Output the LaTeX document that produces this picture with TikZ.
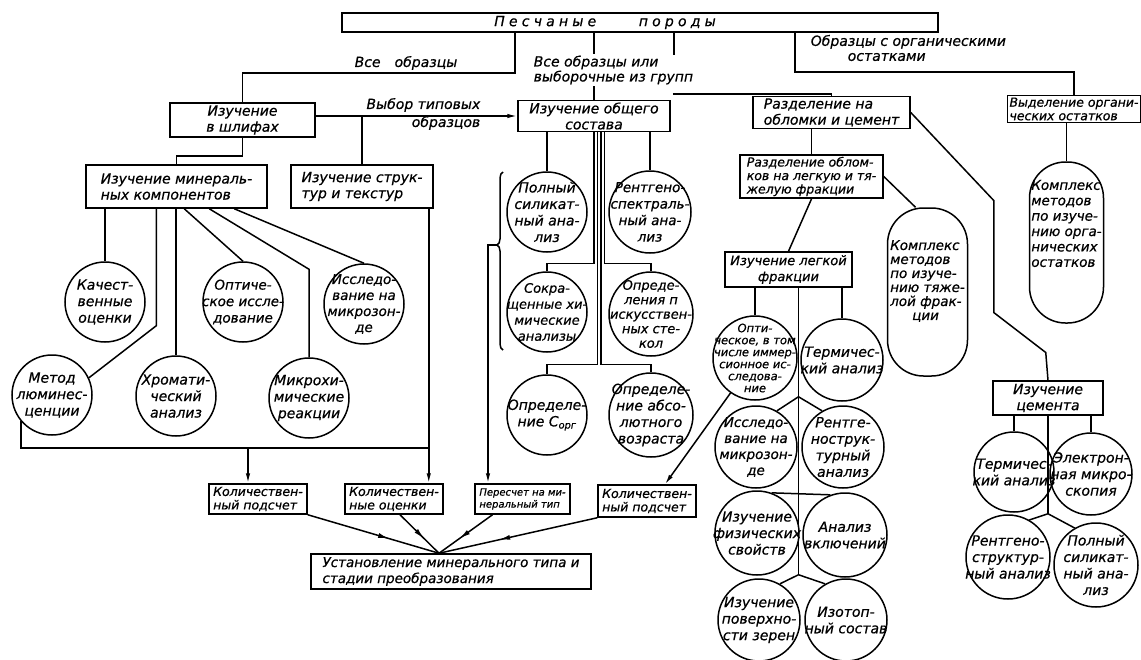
\documentclass[tikz,border=0pt]{standalone}
\usepackage{fontspec}
\setmainfont{DejaVu Sans}[ItalicFeatures={FakeBold=0.6}]
\usetikzlibrary{arrows.meta,decorations.pathreplacing,decorations.markings}

\begin{document}
\begin{tikzpicture}
[   x=1pt,y=-1pt,line width=1.5pt,
    box/.style={draw,inner sep=2pt,align=left,font=\fontsize{14}{16}\selectfont\itshape},
    sbox/.style={box,font=\fontsize{12.5}{13.5}\selectfont\itshape},
    circ/.style={draw,circle,minimum size=80pt,inner sep=-25pt,align=center,font=\fontsize{14}{16.5}\selectfont\itshape},
    oval/.style={draw,rounded corners=36pt,inner sep=0pt},
    otext/.style={align=left,inner sep=0pt,font=\fontsize{13.5}{14}\selectfont\itshape},
    lbl/.style={align=left,inner sep=1pt,font=\fontsize{14}{15}\selectfont\itshape},
    arr/.style={-{Latex[length=10pt,width=4.5pt]}},
    midarr/.style={postaction={decorate},decoration={markings,mark=at position 0.62 with {\arrow{Latex[length=11pt,width=5pt]}}}}
]
    \path[fill=white] (0,0) rectangle (1141,659);
    \useasboundingbox (0,0) rectangle (1141,659);
    % top and first level
    \node[box,inner sep=0pt,align=center,minimum width=596pt,minimum height=19pt,font=\fontsize{14}{16}\selectfont\itshape\addfontfeatures{LetterSpace=30}] (pesch) at (640,22.5) {Песчаные \hspace*{34pt}породы\hspace*{70pt}};
    \node[lbl] (vse) at (406,63) {Все\quad образцы};
    \node[lbl,anchor=west] (vseili) at (532,70) {Все образцы или\\выборочные из групп};
    \node[lbl,anchor=west] (orgl) at (809,48) {Образцы с органическими\\\hspace*{37pt}остатками};
    \node[box,align=center,minimum width=145pt,minimum height=34pt] (shlif) at (242.5,120) {Изучение\\в шлифах};
    \node[box,align=center,minimum width=152pt,minimum height=30pt] (obs) at (594,116) {Изучение общего\\состава};
    \node[box,minimum width=157pt,minimum height=29pt] (razdC) at (831.5,112.5) {Разделение на\\обломки и цемент};
    \node[sbox,minimum width=128pt,minimum height=26pt] (vydel) at (1074,109) {Выделение органи-\\ческих остатков};
    \node[lbl,align=right,anchor=east,font=\fontsize{14}{18}\selectfont\itshape] (vybor) at (482,114) {Выбор типовых\\образцов};
    % second level
    \node[box,minimum width=181pt,minimum height=43pt] (mincomp) at (176.5,186.5) {Изучение минераль-\\ных компонентов};
    \node[box,minimum width=142pt,minimum height=43pt] (struct) at (362,186.5) {Изучение струк-\\тур и текстур};
    \node[sbox,minimum width=143pt,minimum height=43pt] (razdOb) at (811.5,176.5) {Разделение облом-\\ков на легкую и тя-\\желую фракции};
    \node[oval,minimum width=80pt,minimum height=168pt] (tyazh) at (927.5,292) {};
    \node[otext] (tyazh-t) at ([yshift=11pt]tyazh.center) {Комплекс\\методов\\по изуче-\\нию тяже-\\лой фрак-\\\hspace*{22pt}ции};
    \node[oval,minimum width=74pt,minimum height=161pt] (orgk) at (1066.5,242.5) {};
    \node[otext,font=\fontsize{13.5}{15.4}\selectfont\itshape] (orgk-t) at ([yshift=19pt]orgk.center) {Комплекс\\методов\\по изуче-\\нию орга-\\нических\\остатков};
    \node[box,align=center,minimum width=127pt,minimum height=35pt,font=\fontsize{13}{16}\selectfont\itshape] (light) at (788.5,269.5) {Изучение легкой\\фракции};
    \node[box,align=center,minimum width=110pt,minimum height=34pt] (cem) at (1048,398) {Изучение\\цемента};
    % circles, left
    \node[circ] (kach) at (105,302) {Качест-\\венные\\оценки};
    \node[circ,font=\fontsize{13.5}{16.5}\selectfont\itshape] (opt) at (243,302) {Оптиче-\\ское иссле-\\дование};
    \node[circ,font=\fontsize{13.5}{16}\selectfont\itshape] (issl) at (364,304) {Исследо-\\вание на\\микрозон-\\де};
    \node[circ] (metod) at (52,395) {Метод\\люминес-\\ценции};
    \node[circ] (chrom) at (176,396) {Хромати-\\ческий\\анализ};
    \node[circ] (mikro) at (309,398) {Микрохи-\\мические\\реакции};
    % circles, middle
    \node[circ] (polny) at (547,212) {Полный\\силикат-\\ный ана-\\лиз};
    \node[circ,minimum size=82pt,font=\fontsize{13.5}{16.5}\selectfont\itshape] (rentg) at (650,212) {Рентгено-\\спектраль-\\ный ана-\\лиз};
    \node[circ,font=\fontsize{13}{16}\selectfont\itshape] (sokr) at (547,312) {Сокра-\\щенные хи-\\мические\\анализы};
    \node[circ,minimum size=84pt,font=\fontsize{13}{14.5}\selectfont\itshape] (opredN) at (651,314) {Опреде-\\ления п\\искусствен-\\ных сте-\\кол};
    \node[circ] (corg) at (547,415) {Определе-\\ние C\textsubscript{орг}};
    \node[circ,minimum size=84pt] (vozr) at (651,415) {Определе-\\ние абсо-\\лютного\\возраста};
    % circles, light fraction
    \node[circ,minimum size=84pt,font=\fontsize{11.5}{12}\selectfont\itshape] (optl) at (755,358) {Опти-\\ческое, в том\\числе иммер-\\сионное ис-\\следова-\\ние};
    \node[circ,minimum size=82pt] (term) at (842,360) {Термичес-\\кий анализ};
    \node[circ,minimum size=82pt,font=\fontsize{13.5}{16}\selectfont\itshape] (iss2) at (756,447) {Исследо-\\вание на\\микрозон-\\де};
    \node[circ,minimum size=82pt] (rst) at (843,447) {Рентге-\\нострук-\\турный\\анализ};
    \node[circ,minimum size=84pt] (fiz) at (757,533) {Изучение\\физических\\свойств};
    \node[circ,minimum size=84pt] (vkl) at (845,535) {Анализ\\включений};
    \node[circ,minimum size=82pt] (pov) at (759,620) {Изучение\\поверхно-\\сти зерен};
    \node[circ,minimum size=82pt] (izot) at (846,620) {Изотоп-\\ный состав};
    % circles, cement
    \node[circ] (cterm) at (1014,472) {Термичес-\\кий анализ};
    \node[circ,minimum size=82pt] (elec) at (1091,474) {Электрон-\\ная микро-\\скопия};
    \node[circ,minimum size=84pt] (crent) at (1008,557) {Рентгено-\\структур-\\ный анализ};
    \node[circ,minimum size=84pt] (cpoln) at (1096,565) {Полный\\силикат-\\ный ана-\\лиз};
    % bottom
    \node[sbox,minimum width=98pt,minimum height=30pt] (kolP) at (258,499) {Количествен-\\ный подсчет};
    \node[sbox,minimum width=98pt,minimum height=30pt] (kolOc) at (394,499) {Количествен-\\ные оценки};
    \node[sbox,minimum width=95pt,minimum height=30pt,font=\fontsize{10}{12}\selectfont\itshape] (peresc) at (522.5,499) {Пересчет на ми-\\неральный тип};
    \node[sbox,minimum width=98pt,minimum height=32pt] (kolPR) at (647,501) {Количествен-\\ный подсчет};
    \node[box,minimum width=280pt,minimum height=35pt,font=\fontsize{13.5}{16}\selectfont\itshape] (ust) at (451,571.5) {Установление минерального типа и\\стадии преобразования};

    % connectors from the top
    \draw ([xshift=-125pt]pesch.south) -- ++(0,40) -| (shlif.north);
    \draw (pesch.south -| obs.north) -- (vseili.north -| obs.north);
    \draw ([xshift=34pt]pesch.south) -- ++(0,22);
    \draw (vseili.south -| obs.north) -- (obs.north);
    \draw ([xshift=-22pt,yshift=-8pt]vseili.south east) -| (razdC.north);
    \draw ([xshift=155pt]pesch.south) -- ++(0,39) -| (vydel.north);
    \draw (shlif.south) -- ++(0,18) -| (mincomp.north);
    \draw[arr] (shlif.east |- obs.west) -- (obs.west);
    \draw (struct.north |- obs.west) -- (struct.north);
    % mineral components
    \draw (mincomp.south -| kach.north) -- (kach.north);
    \draw ([xshift=71pt]mincomp.south west) -- ++(0,117) -- (metod.25);
    \draw (mincomp.south -| chrom.north) -- (chrom.north);
    \draw ([xshift=99pt]mincomp.south west) -- (opt.north);
    \draw ([xshift=124pt]mincomp.south west) -- ([yshift=88pt]mikro.north) -- (mikro.north);
    \draw ([xshift=149pt]mincomp.south west) -- (issl.north);
    \coordinate (strR) at ([xshift=-5pt]struct.south east);
    \draw[arr] (strR) -- (strR |- kolOc.north);
    \draw (metod.220) -- ++(0,27) coordinate (bar) -- (bar -| strR);
    \coordinate (kpa) at ([xshift=-10pt]kolP.north);
    \draw[arr] (bar -| kpa) -- (kpa);
    % general composition
    \draw (obs.south -| polny.north) -- (polny.north);
    \draw (obs.south -| rentg.north) -- (rentg.north);
    \draw (obs.south) |- ([yshift=8pt]sokr.north) -- (sokr.north);
    \draw ([xshift=3.5pt]obs.south) |- ([yshift=10pt]corg.north) -- (corg.north);
    \draw ([xshift=7pt]obs.south) |- ([yshift=8pt]vozr.north) -- (vozr.north);
    \draw ([xshift=10.5pt]obs.south) |- ([yshift=8pt]opredN.north) -- (opredN.north);
    \draw[decorate,decoration={brace,amplitude=6pt,aspect=0.59}] (503,350) -- (503,172);
    \coordinate (brtip) at (497,245);
    \draw[arr] (brtip) -- ++(-9,0) coordinate (brdn) -- (brdn |- peresc.north);
    % fragments and cement
    \draw (razdOb.north |- razdC.south) -- (razdOb.north);
    \draw (razdOb.east) -- ([xshift=-12pt]tyazh.north);
    \draw (razdOb.south) -- (light.north);
    \draw (razdC.east) -- ++(83,88) -- ++(0,112) -- ++(52,40) -- (cem.north);
    \draw (vydel.south -| orgk.north) -- (orgk.north);
    \draw (light.south -| optl.north) -- (optl.north);
    \draw (light.south -| term.north) -- (term.north);
    \draw ([xshift=10pt]light.south) -- ++(0,109) coordinate (sp1) -- ++(0,178) coordinate (sp3);
    \draw (iss2.60) -- (sp1) -- (rst.120);
    \draw (fiz.70) -- (vkl.110);
    \draw (pov.60) -- (sp3) -- (izot.120);
    \draw[arr] (optl.235) -- ([xshift=18pt]kolPR.north);
    \draw (cem.south -| cterm.north) -- (cterm.north);
    \draw (cem.south -| elec.north) -- (elec.north);
    \draw (cem.south) -- ++(0,98) coordinate (csp);
    \draw (crent.60) -- (csp) -- (cpoln.120);
    % final step
    \coordinate (ustTop) at ([xshift=-12pt]ust.north);
    \draw[midarr] (kolP.south east) -- (ustTop);
    \draw[midarr] ([xshift=6pt]kolOc.south) -- (ustTop);
    \draw[midarr] ([xshift=-30pt]peresc.south) -- (ustTop);
    \draw[midarr] (kolPR.south west) -- (ustTop);
\end{tikzpicture}
\end{document}
